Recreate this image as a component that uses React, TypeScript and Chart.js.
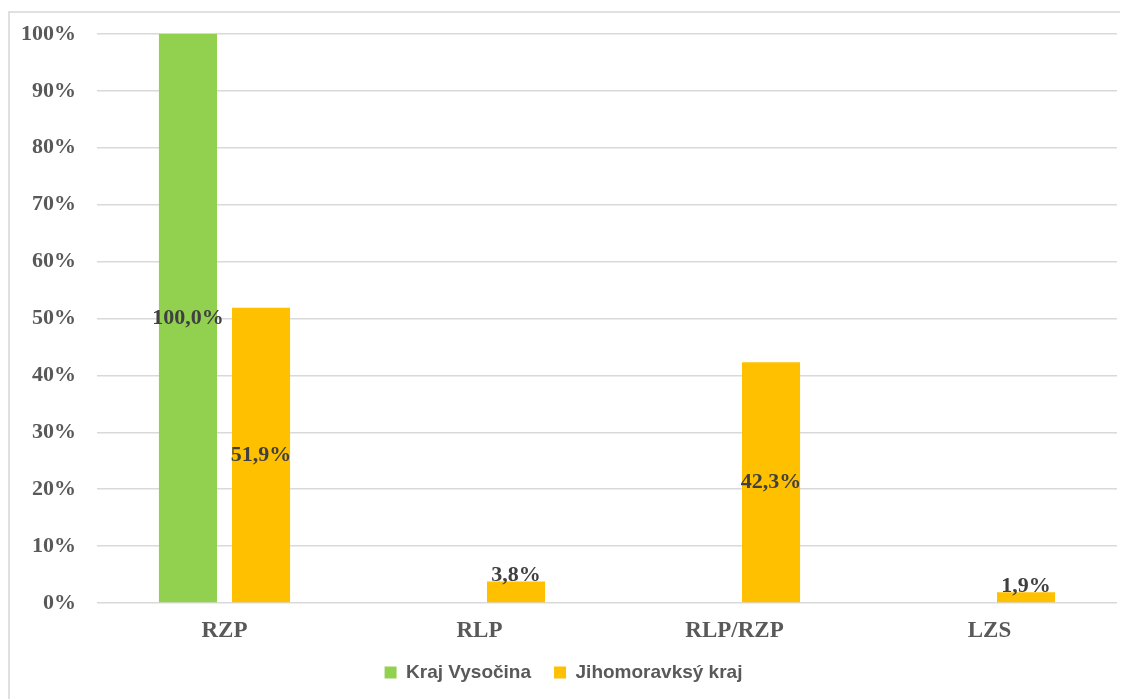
import React, { useEffect, useRef } from "react";
import { Chart, registerables } from "chart.js";

Chart.register(...registerables);

const categories = ["RZP", "RLP", "RLP/RZP", "LZS"];
const seriesNames = ["Kraj Vysočina", "Jihomoravksý kraj"];
const vysocina: (number | null)[] = [100, null, null, null];
const jihomoravsky: (number | null)[] = [51.9, 3.8, 42.3, 1.9];
const yTicks = [0, 10, 20, 30, 40, 50, 60, 70, 80, 90, 100];

const fmt = (v: number) => v.toFixed(1).replace(".", ",") + "%";

const labelPlugin = {
  id: "barLabels",
  afterDatasetsDraw(chart: any) {
    const ctx = chart.ctx;
    ctx.save();
    ctx.font = "bold 22px 'Liberation Serif'";
    ctx.fillStyle = "#404040";
    ctx.textAlign = "center";
    ctx.textBaseline = "middle";
    chart.data.datasets.forEach((ds: any, di: number) => {
      const meta = chart.getDatasetMeta(di);
      meta.data.forEach((bar: any, i: number) => {
        const v = ds.data[i];
        if (v == null) return;
        const h = bar.base - bar.y;
        const y = h > 40 ? (bar.y + bar.base) / 2 : bar.y - 6;
        ctx.fillText(fmt(v), bar.x, y);
      });
    });
    ctx.restore();
  },
};

export default function App() {
  const ref = useRef<HTMLCanvasElement>(null);
  useEffect(() => {
    if (!ref.current) return;
    const chart = new Chart(ref.current, {
      type: "bar",
      data: {
        labels: categories,
        datasets: [
          {
            label: seriesNames[0],
            data: vysocina,
            backgroundColor: "#92D050",
            categoryPercentage: 0.573,
            barPercentage: 0.795,
          },
          {
            label: seriesNames[1],
            data: jihomoravsky,
            backgroundColor: "#FFC000",
            categoryPercentage: 0.573,
            barPercentage: 0.795,
          },
        ],
      },
      options: {
        animation: false,
        responsive: false,
        maintainAspectRatio: false,
        layout: { padding: { top: 21, right: 11, left: 0, bottom: 7 } },
        plugins: {
          tooltip: { enabled: false },
          legend: {
            position: "bottom",
            labels: {
              boxWidth: 12,
              boxHeight: 12,
              padding: 23,
              color: "#595959",
              font: { family: "'Liberation Sans'", size: 19, weight: "bold" },
            },
          },
        },
        scales: {
          x: {
            grid: { display: false, drawTicks: false },
            border: { display: false },
            ticks: {
              color: "#595959",
              font: { family: "'Liberation Serif'", size: 23, weight: "bold" },
              padding: 14,
            },
            afterFit(scale: any) {
              scale.height = 37;
            },
          },
          y: {
            min: 0,
            max: 100,
            afterBuildTicks(scale: any) {
              scale.ticks = yTicks.map((v) => ({ value: v }));
            },
            grid: { color: "#D9D9D9", lineWidth: 1.5, drawTicks: false },
            border: { display: false },
            ticks: {
              color: "#595959",
              font: { family: "'Liberation Serif'", size: 22, weight: "bold" },
              padding: 21,
              callback: (v: any) => v + "%",
            },
            afterFit(scale: any) {
              scale.width = 87;
              scale.paddingTop = 0;
              scale.paddingBottom = 0;
            },
          },
        },
      },
      plugins: [labelPlugin],
    });
    return () => chart.destroy();
  }, []);
  return (
    <div
      style={{
        marginTop: 3,
        width: 1120,
        height: 688,
        boxSizing: "border-box",
        borderTop: "2px solid #E0E0E0",
        borderLeft: "2px solid #E0E0E0",
        position: "relative",
      }}
    >
      <canvas
        ref={ref}
        width={1118}
        height={686}
        style={{ position: "absolute", left: 0, top: 0, width: 1118, height: 686 }}
      />
    </div>
  );
}
